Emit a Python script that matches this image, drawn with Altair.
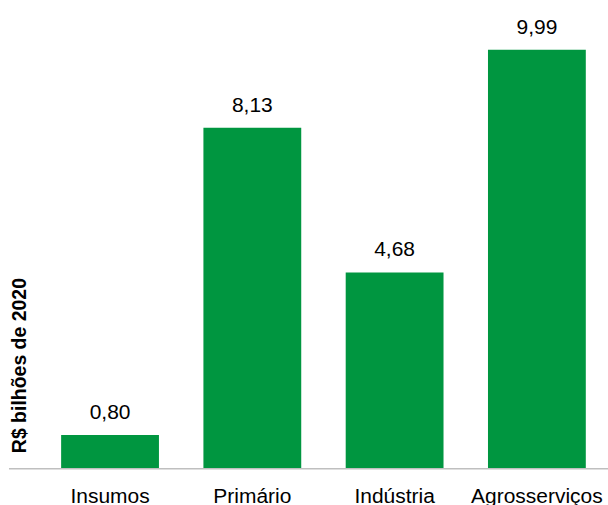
import altair as alt
import pandas as pd

categories = ["Insumos", "Primário", "Indústria", "Agrosserviços"]
values = [0.80, 8.13, 4.68, 9.99]
labels = ["0,80", "8,13", "4,68", "9,99"]

df = pd.DataFrame({"cat": categories, "val": values, "lab": labels})

FONT = "Liberation Sans"
GREEN = "#009640"

x = alt.X("cat:N", sort=categories, title=None,
          scale=alt.Scale(paddingInner=0.3125, paddingOuter=0.156),
          axis=alt.Axis(labelAngle=0, labelFontSize=21, labelFont=FONT,
                        labelColor="#000000", ticks=False, domain=False,
                        labelBaseline="alphabetic", labelPadding=34))
y = alt.Y("val:Q", scale=alt.Scale(domain=[0, 10], nice=False),
          axis=alt.Axis(title="R$ bilhões de 2020", labels=False, ticks=False,
                        domain=False, grid=False, titleFont=FONT,
                        titleFontSize=19.5, titleFontWeight="bold",
                        titleColor="#000000", titleAngle=270,
                        titleX=-19, titleY=404, titleAlign="left",
                        titleBaseline="middle"))

bars = alt.Chart(df).mark_bar(color=GREEN).encode(x=x, y=y)
text = alt.Chart(df).mark_text(font=FONT, fontSize=21, color="#000000",
                               baseline="alphabetic", dy=-16).encode(
    x=alt.X("cat:N", sort=categories), y="val:Q", text="lab:N")
rule = alt.Chart(pd.DataFrame({"z": [0]})).mark_rule(
    color="#BFBFBF", strokeWidth=1.5).encode(
    y=alt.Y("z:Q"), x=alt.value(-30), x2=alt.value(570))

chart = alt.layer(bars, rule, text).properties(
    width=570, height=420,
    autosize=alt.AutoSizeParams(type="none"),
    padding={"left": 39, "top": 49, "right": 0, "bottom": 36},
    background="white",
).configure_view(stroke=None)

chart.save("out.html", embed_options={"renderer": "svg", "actions": False})
